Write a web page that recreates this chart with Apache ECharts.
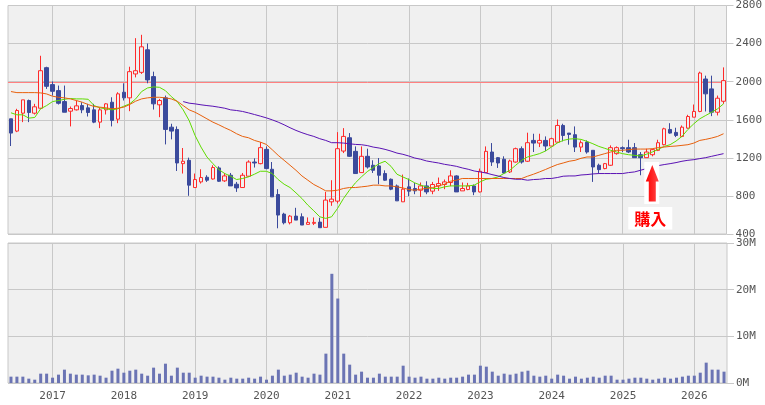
<!DOCTYPE html>
<html><head><meta charset="utf-8">
<script src="https://cdn.jsdelivr.net/npm/echarts@6/dist/echarts.min.js"></script>
<style>html,body{margin:0;padding:0;background:#fff;}#c{width:765px;height:405px;}</style>
</head><body><div id="c"></div>
<script>
// Monthly categories: 2016-06 .. 2026-06
const months = [];
for (let y = 2016, m = 6; y < 2026 || (y === 2026 && m <= 6); ) {
  months.push(y + '-' + (m < 10 ? '0' + m : m));
  m++; if (m > 12) { m = 1; y++; }
}
const opens = [1610,1481,1669,1802,1669,1721,2147,1969,1906,1791,1690,1704,1749,1725,1704,1575,1704,1784,1606,1889,
1830,2081,2098,2335,2053,1757,1830,1522,1498,1139,1174,888,947,996,978,1094,958,1017,923,888,
1007,1156,1139,1289,1080,815,609,518,588,581,501,512,525,470,738,745,1271,1411,1268,1045,
1216,1122,1115,1035,975,905,738,895,878,860,905,850,905,920,941,1010,853,867,905,842,
1045,1261,1202,1185,1052,1156,1296,1164,1383,1355,1383,1324,1365,1540,1460,1443,1313,1365,1279,1122,
1087,1122,1244,1307,1307,1307,1233,1202,1233,1279,1338,1498,1467,1425,1512,1627,1687,2028,1924,1679,1794];
const closes = [1460,1697,1809,1676,1736,2115,1951,1899,1773,1679,1718,1746,1704,1676,1575,1704,1767,1593,1872,1830,
2105,2115,2366,2018,1767,1802,1498,1481,1146,1164,913,972,993,965,1098,954,1010,905,884,1017,
1156,1146,1307,1087,790,599,518,588,546,494,522,522,466,756,766,1296,1425,1216,1035,1216,
1104,1069,1017,965,871,748,871,850,853,905,842,920,930,947,1010,842,878,905,842,1059,
1268,1156,1146,1041,1167,1296,1156,1359,1355,1383,1324,1401,1540,1435,1446,1313,1359,1261,1104,1076,
1139,1307,1307,1296,1261,1202,1202,1261,1286,1359,1505,1460,1435,1522,1634,1687,2091,1872,1679,1826,2011];
const lows = [1324,1470,1575,1575,1655,1715,1924,1854,1760,1679,1530,1697,1669,1634,1564,1512,1655,1530,1564,1802,
1690,2045,2081,1983,1707,1627,1341,1394,1062,1035,801,884,930,947,972,947,947,905,842,884,
1000,1098,1132,1080,790,460,501,501,546,494,501,494,466,470,696,721,1250,1209,1035,1045,
1087,1041,923,958,860,748,738,797,818,790,818,818,853,871,902,842,853,860,808,836,
1045,1115,1094,1035,1041,1150,1139,1156,1261,1313,1271,1324,1359,1373,1338,1261,1261,1244,947,1035,
1080,1115,1233,1261,1250,1202,1017,1202,1216,1271,1331,1453,1418,1418,1505,1627,1679,1687,1638,1645,1767];
const highs = [1610,1715,1809,1812,1767,2272,2157,2003,1959,1959,1739,1802,1784,1767,1767,1725,1774,1836,1889,1983,
2157,2457,2492,2401,2105,1819,1854,1558,1530,1303,1202,1035,1080,1017,1122,1111,1041,1041,947,1041,
1174,1195,1365,1320,1156,871,623,599,675,617,574,574,571,842,965,1470,1512,1460,1320,1320,
1296,1174,1198,1069,983,920,1024,983,937,941,954,947,993,972,1069,1017,941,937,920,1087,
1320,1355,1209,1216,1181,1307,1320,1464,1453,1453,1425,1411,1603,1558,1460,1530,1383,1383,1279,1139,
1146,1331,1320,1320,1390,1355,1261,1296,1296,1390,1516,1564,1516,1540,1652,1760,2105,2063,2063,1854,2150];
const volumesM = [1.36,1.36,1.36,0.93,0.71,2.0,2.0,1.14,1.79,2.86,2.0,1.79,1.79,1.64,1.79,1.57,1.14,2.64,3.07,2.21,
2.64,2.86,2.0,1.57,3.29,2.0,4.14,1.57,3.29,2.21,2.21,1.14,1.57,1.36,1.36,1.14,0.71,1.14,0.93,0.93,
1.14,0.93,1.36,0.71,1.57,2.86,1.57,1.79,2.21,1.36,1.14,2.0,1.79,6.29,23.4,18.1,6.29,3.93,1.79,2.43,
1.14,1.14,2.0,1.36,1.36,1.36,3.71,1.36,1.14,1.36,0.93,0.93,1.14,0.93,1.14,1.14,1.36,1.79,1.79,3.71,
3.5,2.43,1.57,2.0,1.79,2.0,2.43,2.64,1.57,1.36,1.57,0.93,1.79,1.57,0.93,1.36,0.93,1.14,1.36,1.14,
1.57,1.57,0.71,0.71,0.93,1.14,1.14,0.93,0.71,0.93,1.14,0.93,1.14,1.36,1.57,1.57,2.21,4.36,2.86,2.86,2.43];
const maShort = [1673,1652,1652,1617,1624,1715,1749,1791,1802,1815,1823,1819,1819,1815,1749,1725,1715,1704,1715,1742,
1767,1819,1896,1934,1945,1941,1906,1843,1791,1704,1592,1435,1313,1209,1139,1077,1035,1007,972,983,
1000,1028,1059,1059,1035,972,923,888,832,773,703,644,581,564,581,669,773,860,937,999,
1055,1098,1139,1164,1111,1028,999,972,937,913,895,878,878,895,905,905,905,905,913,947,
975,983,999,1035,1069,1122,1174,1209,1226,1244,1271,1313,1355,1383,1397,1401,1394,1373,1348,1320,
1300,1279,1261,1244,1233,1226,1219,1237,1261,1289,1320,1338,1376,1425,1498,1558,1610,1645,1679,1715,1767];
const maMid = [1896,1885,1885,1885,1885,1882,1871,1847,1836,1830,1819,1802,1784,1760,1739,1732,1725,1715,1721,1732,
1760,1795,1819,1830,1836,1836,1830,1819,1794,1749,1704,1679,1645,1610,1575,1547,1516,1488,1453,1425,
1411,1383,1365,1341,1285,1226,1174,1122,1069,1010,965,920,888,853,853,860,878,888,888,895,
902,913,913,905,905,895,884,867,860,871,878,888,905,923,954,965,983,983,983,983,
983,983,983,983,983,983,983,1007,1028,1052,1077,1104,1129,1146,1164,1174,1195,1209,1209,1226,
1244,1261,1279,1279,1286,1292,1292,1292,1296,1307,1313,1320,1324,1331,1338,1355,1383,1394,1408,1425,1453];
const maLong = [null,null,null,null,null,null,null,null,null,null,null,null,null,null,null,null,null,null,null,null,
null,null,null,null,null,null,null,null,null,1791,1774,1767,1757,1749,1742,1732,1721,1704,1697,1687,
1672,1655,1638,1620,1599,1575,1547,1516,1488,1464,1443,1425,1401,1383,1359,1359,1355,1348,1341,1338,
1329,1313,1303,1289,1271,1250,1237,1219,1198,1185,1167,1156,1146,1132,1122,1111,1094,1080,1062,1052,
1041,1024,1010,993,983,975,975,965,972,975,983,983,993,1007,1010,1010,1020,1024,1031,1035,
1035,1035,1035,1035,1045,1052,1069,1087,1104,1118,1129,1139,1150,1164,1174,1181,1192,1202,1216,1230,1244];
const priceTicks = [400, 2800, 400];
const volTicksM = [0, 30, 10];
const refLine = 2000;
const buyMonth = '2025-06';
const buyPrice = 1140;
const buyLabel = '購入';

const candles = months.map((m, i) => [opens[i], closes[i], lows[i], highs[i]]);
const volumes = volumesM.map(v => v * 1e6);

const GRID = '#c8c8c8';
const LBL = { color: '#555', fontFamily: 'DejaVu Sans Mono', fontSize: 11 };
const isJan = (i, v) => String(v).slice(5) === '01';

const chart = echarts.init(document.getElementById('c'), null, { renderer: 'canvas' });
chart.setOption({
  animation: false,
  backgroundColor: '#fff',
  grid: [
    { left: 8, right: 38, top: 4.5, height: 229.5, show: true, backgroundColor: '#f0f0f0', borderColor: GRID, borderWidth: 1 },
    { left: 8, right: 38, top: 243, height: 140, show: true, backgroundColor: '#f0f0f0', borderColor: GRID, borderWidth: 1 }
  ],
  xAxis: [
    { type: 'category', gridIndex: 0, data: months, boundaryGap: true,
      axisLine: { show: false }, axisTick: { show: false }, axisLabel: { show: false },
      splitLine: { show: true, interval: isJan, alignWithLabel: true, lineStyle: { color: GRID, width: 1 } } },
    { type: 'category', gridIndex: 1, data: months, boundaryGap: true,
      axisLine: { show: false }, axisTick: { show: false },
      axisLabel: Object.assign({ interval: isJan, formatter: v => v.slice(0, 4), margin: 8 }, LBL),
      splitLine: { show: true, interval: isJan, alignWithLabel: true, lineStyle: { color: GRID, width: 1 } } }
  ],
  yAxis: [
    { type: 'value', gridIndex: 0, position: 'right', min: priceTicks[0], max: priceTicks[1], interval: priceTicks[2],
      axisLine: { show: false }, axisTick: { show: true, length: 7, lineStyle: { color: GRID } },
      axisLabel: Object.assign({ margin: 9, formatter: v => String(v) }, LBL),
      splitLine: { show: true, lineStyle: { color: GRID, width: 1 } } },
    { type: 'value', gridIndex: 1, position: 'right', min: volTicksM[0] * 1e6, max: volTicksM[1] * 1e6, interval: volTicksM[2] * 1e6,
      axisLine: { show: false }, axisTick: { show: true, length: 7, lineStyle: { color: GRID } },
      axisLabel: Object.assign({ margin: 9, formatter: v => (v / 1e6) + 'M' }, LBL),
      splitLine: { show: true, lineStyle: { color: GRID, width: 1 } } }
  ],
  series: [
    { type: 'candlestick', xAxisIndex: 0, yAxisIndex: 0, data: candles, barWidth: 4, z: 2,
      itemStyle: { color: '#f0f0f0', color0: '#3b4a9c', borderColor: '#ff2a2a', borderColor0: '#3b4a9c', borderWidth: 1 } },
    { type: 'line', xAxisIndex: 0, yAxisIndex: 0, data: maShort, showSymbol: false, z: 3,
      lineStyle: { color: '#5fdc00', width: 1 } },
    { type: 'line', xAxisIndex: 0, yAxisIndex: 0, data: maMid, showSymbol: false, z: 3,
      lineStyle: { color: '#e8600c', width: 1 } },
    { type: 'line', xAxisIndex: 0, yAxisIndex: 0, data: maLong, showSymbol: false, z: 3, connectNulls: false,
      lineStyle: { color: '#5a12b4', width: 1 } },
    { type: 'bar', xAxisIndex: 1, yAxisIndex: 1, data: volumes, barWidth: 3,
      itemStyle: { color: '#6b74b4' } }
  ]
});

// reference line and annotation, positioned through the axes
const p0 = chart.convertToPixel({ xAxisIndex: 0, yAxisIndex: 0 }, [months[0], refLine]);
const p1 = chart.convertToPixel({ xAxisIndex: 0, yAxisIndex: 0 }, [months[months.length - 1], refLine]);
const half = (p1[0] - p0[0]) / (months.length - 1) / 2;
const ry = Math.round(p0[1]) + 0.5;
const p = chart.convertToPixel({ xAxisIndex: 0, yAxisIndex: 0 }, [buyMonth, buyPrice]);
const ax = p[0], ay = p[1];
chart.setOption({
  graphic: [
    { type: 'line', z: 1, silent: true,
      shape: { x1: p0[0] - half, y1: ry, x2: p1[0] + half, y2: ry },
      style: { stroke: '#ff8080', lineWidth: 1 } },
    { type: 'rect', shape: { x: ax - 8, y: ay - 1.5, width: 15, height: 42 }, style: { fill: '#fff' }, z: 10 },
    { type: 'polygon', z: 11,
      shape: { points: [[ax, ay + 1.5], [ax + 6.5, ay + 18], [ax + 3.5, ay + 18], [ax + 3.5, ay + 38],
                        [ax - 3.5, ay + 38], [ax - 3.5, ay + 18], [ax - 6.5, ay + 18]] },
      style: { fill: new echarts.graphic.LinearGradient(0, 0, 1, 0, [{ offset: 0, color: '#ff0000' }, { offset: 1, color: '#ff4a4a' }]) } },
    { type: 'rect', shape: { x: ax - 24, y: ay + 43.5, width: 44, height: 22.5 }, style: { fill: '#fff' }, z: 10 },
    { type: 'text', z: 11, x: ax - 2, y: ay + 55,
      style: { text: buyLabel, fill: '#ff0000', font: 'bold 16px "Noto Sans CJK JP"', align: 'center', verticalAlign: 'middle' } }
  ]
});
</script>
</body></html>
